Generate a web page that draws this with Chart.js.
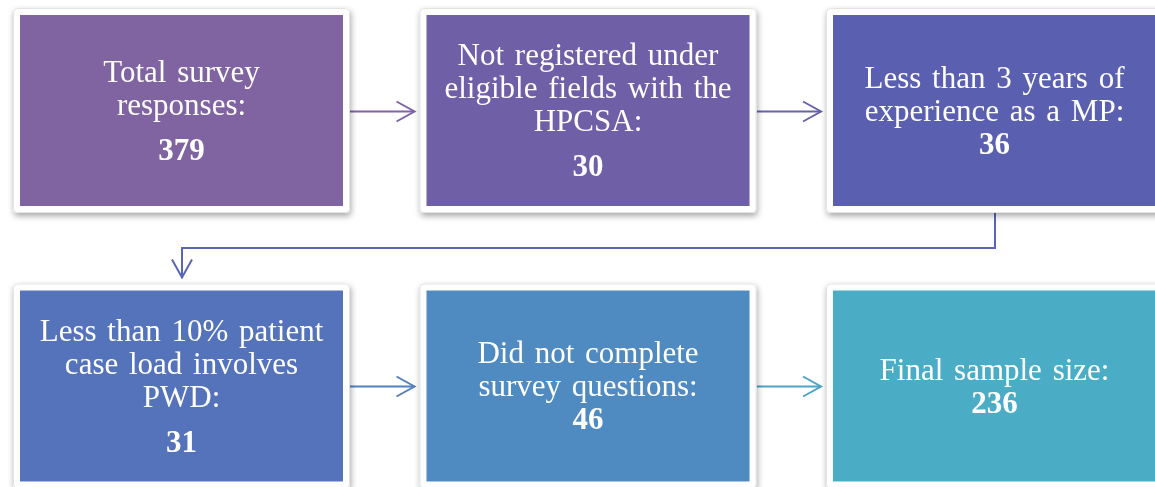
<!DOCTYPE html>
<html>
<head>
<meta charset="utf-8">
<script src="https://cdn.jsdelivr.net/npm/chart.js@4"></script>
<style>
    html, body { margin: 0; padding: 0; background: #fff; }
    #wrap { width: 1155px; height: 487px; position: relative; }
</style>
</head>
<body>
<div id="wrap"><canvas id="flowChart"></canvas></div>
<script>
// Exclusion steps, in reading order (3 per row)
const stepLabels = [
    ['Total survey', 'responses:'],
    ['Not registered under', 'eligible fields with the', 'HPCSA:'],
    ['Less than 3 years of', 'experience as a MP:'],
    ['Less than 10% patient', 'case load involves', 'PWD:'],
    ['Did not complete', 'survey questions:'],
    ['Final sample size:']
];
const stepCounts = [379, 30, 36, 31, 46, 236];

// Look of the boxes and connectors
const boxColors = ['#8064A2', '#6E5FA7', '#5A5FB0', '#5573BA', '#4F8BC0', '#4BACC6'];
const arrowColors = ['#7F64A3', '#6762AC', '#5966B5', '#5580BD', '#4DA3C4'];
const numberSpaced = [true, true, false, true, false, false]; // extra gap before the count

const perRow = 3;
const halfW = 0.3973;   // box half width, in column units
const halfH = 0.3466;   // box half height, in row units
const frame = 7;        // white frame around each box, px
const lineGap = 33;
const bigGap = 45;

function boxRect(chart, i) {
    const x = chart.scales.x, y = chart.scales.y;
    const col = i % perRow, row = Math.floor(i / perRow);
    const left = x.getPixelForValue(col - halfW);
    const right = x.getPixelForValue(col + halfW);
    const top = y.getPixelForValue(row - halfH);
    const bottom = y.getPixelForValue(row + halfH);
    return { left, right, top, bottom, cx: (left + right) / 2, cy: (top + bottom) / 2 };
}

function roundRect(ctx, x, y, w, h, r) {
    ctx.beginPath();
    ctx.moveTo(x + r, y);
    ctx.lineTo(x + w - r, y);
    ctx.quadraticCurveTo(x + w, y, x + w, y + r);
    ctx.lineTo(x + w, y + h - r);
    ctx.quadraticCurveTo(x + w, y + h, x + w - r, y + h);
    ctx.lineTo(x + r, y + h);
    ctx.quadraticCurveTo(x, y + h, x, y + h - r);
    ctx.lineTo(x, y + r);
    ctx.quadraticCurveTo(x, y, x + r, y);
    ctx.closePath();
}

function arrowHead(ctx, tipX, tipY, dirX, dirY) {
    // open chevron pointing along (dirX, dirY)
    const back = 18, side = 10;
    ctx.beginPath();
    ctx.moveTo(tipX - dirX * back - dirY * side, tipY - dirY * back + dirX * side);
    ctx.lineTo(tipX, tipY);
    ctx.lineTo(tipX - dirX * back + dirY * side, tipY - dirY * back - dirX * side);
    ctx.stroke();
}

const flowPlugin = {
    id: 'flowBoxes',
    afterDatasetsDraw(chart) {
        const ctx = chart.ctx;
        const rects = stepCounts.map((_, i) => boxRect(chart, i));

        // connectors
        ctx.save();
        ctx.lineWidth = 2;
        ctx.lineCap = 'butt';
        for (let i = 0; i < rects.length - 1; i++) {
            const a = rects[i], b = rects[i + 1];
            ctx.strokeStyle = arrowColors[i];
            if ((i + 1) % perRow !== 0) {
                const yMid = Math.round(a.cy) + 0.5;
                const x0 = a.right + frame, x1 = b.left - 12;
                ctx.beginPath();
                ctx.moveTo(x0, yMid);
                ctx.lineTo(x1, yMid);
                ctx.stroke();
                arrowHead(ctx, x1, yMid, 1, 0);
            } else {
                const xa = Math.round(a.cx), xb = Math.round(b.cx);
                const yTurn = Math.round((a.bottom + b.top) / 2);
                const tip = b.top - 13;
                ctx.beginPath();
                ctx.moveTo(xa, a.bottom + frame);
                ctx.lineTo(xa, yTurn);
                ctx.lineTo(xb, yTurn);
                ctx.lineTo(xb, tip);
                ctx.stroke();
                arrowHead(ctx, xb, tip, 0, 1);
            }
        }
        ctx.restore();

        // boxes
        rects.forEach((r, i) => {
            ctx.save();
            ctx.shadowColor = 'rgba(0,0,0,0.35)';
            ctx.shadowBlur = 6;
            ctx.shadowOffsetX = 1;
            ctx.shadowOffsetY = 3;
            roundRect(ctx, r.left - frame, r.top - frame, r.right - r.left + 2 * frame, r.bottom - r.top + 2 * frame, 4);
            ctx.fillStyle = '#ffffff';
            ctx.fill();
            ctx.restore();

            ctx.save();
            roundRect(ctx, r.left - frame + 0.5, r.top - frame + 0.5, r.right - r.left + 2 * frame - 1, r.bottom - r.top + 2 * frame - 1, 4);
            ctx.strokeStyle = '#e4e4e4';
            ctx.lineWidth = 1;
            ctx.stroke();
            ctx.fillStyle = boxColors[i];
            ctx.fillRect(r.left, r.top, r.right - r.left, r.bottom - r.top);

            // text block
            const lines = stepLabels[i];
            const gap = numberSpaced[i] ? bigGap : lineGap;
            const span = (lines.length - 1) * lineGap + gap;
            let base = r.cy + 10 - span / 2;
            ctx.fillStyle = '#ffffff';
            ctx.textAlign = 'center';
            ctx.textBaseline = 'alphabetic';
            ctx.wordSpacing = '3px';
            ctx.font = '31px "Liberation Serif", "Times New Roman", serif';
            lines.forEach((t, k) => {
                ctx.fillText(t, r.cx, base + k * lineGap);
            });
            ctx.font = 'bold 31px "Liberation Serif", "Times New Roman", serif';
            ctx.fillText(String(stepCounts[i]), r.cx, base + (lines.length - 1) * lineGap + gap);
            ctx.restore();
        });
    }
};

new Chart(document.getElementById('flowChart'), {
    type: 'scatter',
    data: {
        datasets: [{
            label: 'Participants',
            data: stepCounts.map((c, i) => ({ x: i % perRow, y: Math.floor(i / perRow), count: c })),
            pointRadius: 0
        }]
    },
    options: {
        responsive: true,
        maintainAspectRatio: false,
        animation: false,
        layout: { padding: 0 },
        plugins: {
            legend: { display: false },
            tooltip: { enabled: false }
        },
        scales: {
            x: { type: 'linear', display: false, min: -0.4465, max: 2.3948 },
            y: { type: 'linear', display: false, reverse: true, min: -0.4011, max: 1.3666 }
        }
    },
    plugins: [flowPlugin]
});
</script>
</body>
</html>
